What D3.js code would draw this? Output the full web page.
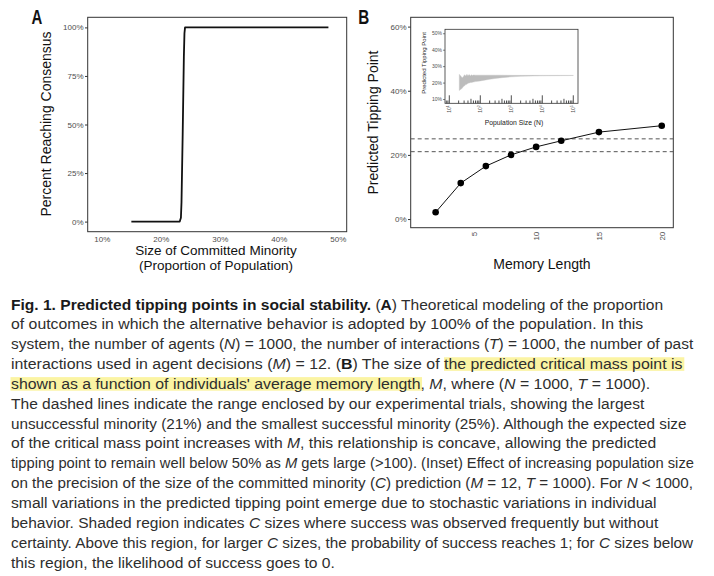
<!DOCTYPE html>
<html><head><meta charset="utf-8">
<script src="https://cdn.jsdelivr.net/npm/d3@7"></script>
<style>
html,body{margin:0;padding:0;background:#fff;}
svg{display:block;}
text{white-space:pre;}
</style></head>
<body>
<svg id="chart" width="714" height="576"></svg>
<script>
// ---------- DATA ----------
// Panel A: committed minority size (%) vs percent reaching consensus (%)
const commitSize = [15, 16, 17, 18, 19, 20, 21, 22, 23, 23.2, 23.4, 23.5, 23.7, 23.9, 24.0, 24.1, 25, 30, 35, 40, 45, 48.4];
const pctConsensus = [0, 0, 0, 0, 0, 0, 0, 0, 0, 0, 2, 10, 45, 85, 97, 100, 100, 100, 100, 100, 100, 100];
const xTicksA = [10, 20, 30, 40, 50];
const yTicksA = [0, 25, 50, 75, 100];

// Panel B: memory length vs predicted tipping point (%)
const memoryLength = [2, 4, 6, 8, 10, 12, 15, 20];
const tippingPoint = [2.1, 11.2, 16.5, 20.0, 22.5, 24.4, 27.1, 29.1];
const dashedLevels = [25, 21];
const xTicksB = [5, 10, 15, 20];
const yTicksB = [0, 20, 40, 60];

// Inset: population size vs shaded tipping point range (%)
const popSize = [21, 23, 26, 28, 31, 34, 37, 40, 44, 48, 52, 56, 60, 70, 100, 150, 200, 300, 500, 1000, 2000, 5000, 10000, 30000, 100000];
const rangeUpper = [25.0, 24.2, 23.0, 23.4, 24.8, 24.0, 25.0, 24.2, 24.9, 24.0, 24.8, 24.3, 24.6, 24.5, 24.5, 24.5, 24.5, 24.5, 24.5, 24.4, 24.4, 24.4, 24.4, 24.4, 24.4];
const rangeLower = [15.2, 15.8, 16.5, 17.5, 18.0, 18.8, 19.0, 19.6, 19.8, 20.0, 20.1, 20.2, 20.3, 20.6, 21.0, 21.6, 22.0, 22.5, 23.0, 23.5, 23.8, 24.0, 24.1, 24.2, 24.3];
const yTicksInset = [10, 20, 30, 40, 50];
const xDecadesInset = [1, 2, 3, 4, 5];

// Caption
const captionLines = [
  [["Fig. 1. Predicted tipping points in social stability.","b"],[" (",""],["A","b"],[") Theoretical modeling of the proportion",""]],
  [["of outcomes in which the alternative behavior is adopted by 100% of the population. In this",""]],
  [["system, the number of agents (",""],["N","i"],[") = 1000, the number of interactions (",""],["T","i"],[") = 1000, the number of past",""]],
  [["interactions used in agent decisions (",""],["M","i"],[") = 12. (",""],["B","b"],[") The size of ",""],["the predicted critical mass point is","h"]],
  [["shown as a function of individuals' average memory length","h"],[", ",""],["M","i"],[", where (",""],["N","i"],[" = 1000, ",""],["T","i"],[" = 1000).",""]],
  [["The dashed lines indicate the range enclosed by our experimental trials, showing the largest",""]],
  [["unsuccessful minority (21%) and the smallest successful minority (25%). Although the expected size",""]],
  [["of the critical mass point increases with ",""],["M","i"],[", this relationship is concave, allowing the predicted",""]],
  [["tipping point to remain well below 50% as ",""],["M","i"],[" gets large (>100). (Inset) Effect of increasing population size",""]],
  [["on the precision of the size of the committed minority (",""],["C","i"],[") prediction (",""],["M","i"],[" = 12, ",""],["T","i"],[" = 1000). For ",""],["N","i"],[" < 1000,",""]],
  [["small variations in the predicted tipping point emerge due to stochastic variations in individual",""]],
  [["behavior. Shaded region indicates ",""],["C","i"],[" sizes where success was observed frequently but without",""]],
  [["certainty. Above this region, for larger ",""],["C","i"],[" sizes, the probability of success reaches 1; for ",""],["C","i"],[" sizes below",""]],
  [["this region, the likelihood of success goes to 0.",""]]
];
const captionLineEnds = [664, 643.3, 694, 683.3, 651, 644.7, 687.3, 656.7, 694, 693.3, 657.3, 658.3, 694, 335];

// ---------- DRAW ----------
const svg = d3.select("#chart");
svg.append("rect").attr("width",714).attr("height",576).attr("fill","#fff");
const FONT = "'Liberation Sans', Arial, Helvetica, sans-serif";
const NARROW = "'Liberation Sans Narrow', 'Arial Narrow', 'Liberation Sans', Arial, sans-serif";
const tickCol = "#4d4d4d";

// ===== Panel A =====
const xA = d3.scaleLinear().domain([7.6, 51.5]).range([87.7, 346.7]);
const yA = d3.scaleLinear().domain([-5.2, 105.2]).range([231.7, 17.3]);
const gA = svg.append("g");
gA.append("rect").attr("x",xA.range()[0]).attr("y",yA.range()[1])
  .attr("width",xA.range()[1]-xA.range()[0]).attr("height",yA.range()[0]-yA.range()[1])
  .attr("fill","#fff").attr("stroke","#333").attr("stroke-width",1);
const axLA = gA.append("g").attr("transform",`translate(${xA.range()[0]},0)`)
  .call(d3.axisLeft(yA).tickValues(yTicksA).tickFormat(d=>d+"%").tickSizeOuter(0).tickSize(2.7).tickPadding(1.5));
axLA.select(".domain").remove();
axLA.selectAll("line").attr("stroke","#333");
axLA.selectAll("text").attr("font-family",FONT).attr("font-size",8).attr("fill",tickCol);
const axBA = gA.append("g").attr("transform",`translate(0,${yA.range()[0]})`)
  .call(d3.axisBottom(xA).tickValues(xTicksA).tickFormat(d=>d+"%").tickSize(0).tickPadding(4.6));
axBA.select(".domain").remove();
axBA.selectAll("text").attr("font-family",FONT).attr("font-size",8).attr("fill",tickCol);
const lineA = d3.line().x((d,i)=>xA(commitSize[i])).y(d=>yA(d));
gA.append("path").attr("d",lineA(pctConsensus)).attr("fill","none").attr("stroke","#111").attr("stroke-width",1.8).attr("stroke-linejoin","round");
gA.append("text").attr("transform","translate(50.5,124) rotate(-90)").attr("text-anchor","middle")
  .attr("font-family",FONT).attr("font-size",14).attr("fill","#111").text("Percent Reaching Consensus");
gA.append("text").attr("x",216).attr("y",254.5).attr("text-anchor","middle")
  .attr("font-family",FONT).attr("font-size",13.5).attr("fill","#111").text("Size of Committed Minority");
gA.append("text").attr("x",216).attr("y",269.8).attr("text-anchor","middle")
  .attr("font-family",FONT).attr("font-size",13.5).attr("fill","#111").text("(Proportion of Population)");
svg.append("text").attr("x",31.5).attr("y",24.3).attr("font-family",NARROW).attr("font-weight","bold")
  .attr("font-size",20).attr("fill","#111").attr("textLength",10.8).attr("lengthAdjust","spacingAndGlyphs").text("A");

// ===== Panel B =====
const xB = d3.scaleLinear().domain([0.016, 20.92]).range([410.7, 673.3]);
const yB = d3.scaleLinear().domain([-2.7, 62.9]).range([227.7, 17.3]);
const gB = svg.append("g");
gB.append("rect").attr("x",xB.range()[0]).attr("y",yB.range()[1])
  .attr("width",xB.range()[1]-xB.range()[0]).attr("height",yB.range()[0]-yB.range()[1])
  .attr("fill","#fff").attr("stroke","#333").attr("stroke-width",1);
const axLB = gB.append("g").attr("transform",`translate(${xB.range()[0]},0)`)
  .call(d3.axisLeft(yB).tickValues(yTicksB).tickFormat(d=>d+"%").tickSizeOuter(0).tickSize(2.7).tickPadding(1.5));
axLB.select(".domain").remove();
axLB.selectAll("line").attr("stroke","#333");
axLB.selectAll("text").attr("font-family",FONT).attr("font-size",8).attr("fill",tickCol);
const axBB = gB.append("g").attr("transform",`translate(0,${yB.range()[0]})`)
  .call(d3.axisBottom(xB).tickValues(xTicksB).tickSize(0).tickPadding(0));
axBB.select(".domain").remove();
axBB.selectAll("text").attr("font-family",FONT).attr("font-size",8).attr("fill",tickCol)
  .attr("transform","rotate(-90)").attr("text-anchor","end").attr("dy","0.35em").attr("x",-4).attr("y",0);
gB.selectAll("line.dash").data(dashedLevels).join("line").attr("class","dash")
  .attr("x1",xB.range()[0]).attr("x2",xB.range()[1]).attr("y1",d=>yB(d)).attr("y2",d=>yB(d))
  .attr("stroke","#555").attr("stroke-width",1).attr("stroke-dasharray","4,3");
const lineB = d3.line().x((d,i)=>xB(memoryLength[i])).y(d=>yB(d));
gB.append("path").attr("d",lineB(tippingPoint)).attr("fill","none").attr("stroke","#111").attr("stroke-width",1);
gB.selectAll("circle").data(tippingPoint).join("circle")
  .attr("cx",(d,i)=>xB(memoryLength[i])).attr("cy",d=>yB(d)).attr("r",3.3).attr("fill","#000");
gB.append("text").attr("transform","translate(377.5,122.5) rotate(-90)").attr("text-anchor","middle")
  .attr("font-family",FONT).attr("font-size",14).attr("fill","#111").text("Predicted Tipping Point");
gB.append("text").attr("x",542).attr("y",268.5).attr("text-anchor","middle")
  .attr("font-family",FONT).attr("font-size",14).attr("fill","#111").text("Memory Length");
svg.append("text").attr("x",358.2).attr("y",24.3).attr("font-family",NARROW).attr("font-weight","bold")
  .attr("font-size",20).attr("fill","#111").attr("textLength",11).attr("lengthAdjust","spacingAndGlyphs").text("B");

// ===== Inset =====
const xI = d3.scaleLog().domain([Math.pow(10,0.861), Math.pow(10,5.152)]).range([445, 578]);
const yI = d3.scaleLinear().domain([7.4, 52.4]).range([103.3, 29.3]);
const gI = svg.append("g");
gI.append("rect").attr("x",xI.range()[0]).attr("y",yI.range()[1])
  .attr("width",xI.range()[1]-xI.range()[0]).attr("height",yI.range()[0]-yI.range()[1])
  .attr("fill","#fff");
const area = d3.area().x((d,i)=>xI(popSize[i])).y0((d,i)=>yI(rangeLower[i])).y1(d=>yI(d));
gI.append("path").attr("d",area(rangeUpper)).attr("fill","#bcbcbc").attr("stroke","#c4c4c4").attr("stroke-width",0.4);
// log ticks along bottom
const logTicks = [];
[0,1,2,3,4].forEach(e=>{ for(let m=1;m<10;m++){ const v=m*Math.pow(10,e); if(v>=xI.domain()[0] && v<=xI.domain()[1]) logTicks.push([v,m]); } });
logTicks.push([1e5,1]);
gI.selectAll("line.lt").data(logTicks).join("line").attr("class","lt")
  .attr("x1",d=>xI(d[0])).attr("x2",d=>xI(d[0]))
  .attr("y1",yI.range()[0]).attr("y2",d=>yI.range()[0]-(d[1]===1?8:(d[1]===5?4.5:2.8)))
  .attr("stroke","#222").attr("stroke-width",0.8);
gI.append("rect").attr("x",xI.range()[0]).attr("y",yI.range()[1])
  .attr("width",xI.range()[1]-xI.range()[0]).attr("height",yI.range()[0]-yI.range()[1])
  .attr("fill","none").attr("stroke","#333").attr("stroke-width",0.8);
const axLI = gI.append("g").attr("transform",`translate(${xI.range()[0]},0)`)
  .call(d3.axisLeft(yI).tickValues(yTicksInset).tickFormat(d=>d+"%").tickSizeOuter(0).tickSize(2).tickPadding(1));
axLI.select(".domain").remove();
axLI.selectAll("line").attr("stroke","#333").attr("stroke-width",0.6);
axLI.selectAll("text").attr("font-family",FONT).attr("font-size",5).attr("fill",tickCol);
const xl = gI.selectAll("g.xl").data(xDecadesInset).join("g").attr("class","xl")
  .attr("transform",d=>`translate(${xI(Math.pow(10,d))+1.8},${yI.range()[0]+2})`);
const xlt = xl.append("text").attr("transform","rotate(-90)").attr("text-anchor","end")
  .attr("font-family",FONT).attr("font-size",5).attr("fill",tickCol);
xlt.append("tspan").text("10");
xlt.append("tspan").attr("font-size",3.5).attr("dy",-2).text(d=>d);
gI.append("text").attr("transform","translate(426,63) rotate(-90)").attr("text-anchor","middle")
  .attr("font-family",FONT).attr("font-size",6).attr("fill","#222").text("Predicted Tipping Point");
gI.append("text").attr("x",514).attr("y",124.5).attr("text-anchor","middle")
  .attr("font-family",FONT).attr("font-size",6.8).attr("fill","#222").text("Population Size (N)");

// ===== Caption =====
const capLeft = 11, capBase0 = 309.5, capStep = 19.85, capSize = 15.5;
const capG = svg.append("g");
captionLines.forEach((segs, li) => {
  const yb = capBase0 + li*capStep;
  const outer = capG.append("g").attr("transform",`translate(${capLeft},${yb})`);
  const inner = outer.append("g");
  const hl = inner.append("g");
  const t = inner.append("text").attr("x",0).attr("y",0)
    .attr("font-family",NARROW).attr("font-size",capSize).attr("fill","#2e2e2e");
  const spans = segs.map(s => {
    const sp = t.append("tspan").text(s[0]);
    if (s[1]==="b") sp.attr("font-weight","bold").attr("fill","#1a1a1a");
    if (s[1]==="i") sp.attr("font-style","italic");
    return sp;
  });
  const widths = spans.map(sp => sp.node().getComputedTextLength());
  const natural = widths.reduce((a,b)=>a+b,0);
  const target = captionLineEnds[li] - capLeft;
  const k = target / natural;
  inner.attr("transform",`scale(${k},1)`);
  let acc = 0;
  segs.forEach((s, si) => {
    if (s[1]==="h") {
      hl.append("rect").attr("x", acc - 0.5/k).attr("y", -11.8)
        .attr("width", widths[si] + 1.5/k).attr("height", 13.6).attr("fill","#fbf4a3");
    }
    acc += widths[si];
  });
});
</script>
</body></html>
